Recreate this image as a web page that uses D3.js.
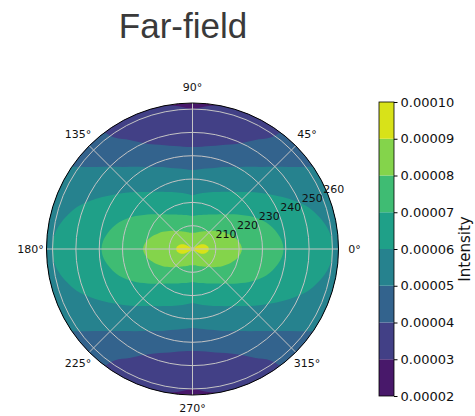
<!DOCTYPE html>
<html lang="en">
    <head>
        <meta charset="utf-8">
        <title>Far-field</title>
        <script type="text/javascript" src="https://cdn.jsdelivr.net/npm/d3@7"></script>
        <style>
            body { margin: 0; background: white; }
            text { font-family: "DejaVu Sans", sans-serif; }
        </style>
    </head>
    <body>
        <script type="text/javascript">
            // contour levels of the intensity (colour bar)
            var levels = [0.00002, 0.00003, 0.00004, 0.00005, 0.00006, 0.00007, 0.00008, 0.00009, 0.00010];

            // angles (deg) at which the contour edges were read, first quadrant (the plot is mirror symmetric)
            var thetaDeg = [0, 5, 10, 15, 20, 25, 30, 35, 40, 45, 50, 55, 60, 65, 70, 75, 80, 85, 90];

            // radius where intensity falls below each level (values > 262.6 lie outside the plot)
            var edge3 = [270, 270, 270, 270, 270, 270, 270, 270, 270, 270, 270, 270, 270, 270, 270, 270, 263.0, 261.3, 260.0];
            var edge4 = [270, 270, 270, 270, 270, 270, 270, 270, 270, 270, 270, 258.3, 254.0, 250.2, 247.7, 246.1, 244.8, 244.0, 243.7];
            var edge5 = [270, 270, 270, 270, 270, 270, 270, 261.5, 254.7, 249.8, 245.9, 243.0, 240.6, 238.8, 237.4, 236.0, 235.0, 234.3, 233.9];
            var edge6 = [260.3, 259.7, 258.1, 255.6, 252.7, 248.6, 244.6, 240.8, 237.5, 234.5, 231.9, 229.9, 228.3, 227.0, 226.0, 225.1, 224.4, 223.7, 223.1];
            var edge7 = [239.0, 238.5, 237.2, 235.5, 233.5, 230.9, 228.2, 225.5, 223.2, 221.1, 219.4, 218.1, 217.1, 216.3, 215.6, 215.1, 214.8, 214.4, 214.1];
            var edge8 = [221.2, 220.8, 220.0, 218.8, 217.4, 216.0, 214.7, 213.3, 212.1, 211.0, 210.0, 209.3, 208.7, 208.2, 207.8, 207.4, 207.1, 207.0, 207.0];
            var edge9 = [207.0, 206.9, 206.6, 206.1, 205.6, 204.8, 203.9, 202.1, 200, 200, 200, 200, 200, 200, 200, 200, 200, 200, 200];
            // the two top lobes do not quite touch at the centre
            var edge9Inner = 200.8;

            var edges = [edge3, edge4, edge5, edge6, edge7, edge8, edge9];

            var rTicks = [210, 220, 230, 240, 250, 260];
            var thetaTicks = [0, 45, 90, 135, 180, 225, 270, 315];

            var w = 475, h = 416;
            var cx = 192.5, cy = 249, R = 146;

            var svg = d3.select("body").append("svg").attr("width", w).attr("height", h);

            var color = function(i){ return d3.interpolateViridis((i + 0.5) / 8); };

            var rScale = d3.scaleLinear().domain([200, 262.6]).range([0, R]);

            svg.append("text")
                .attr("x", 183).attr("y", 38)
                .attr("text-anchor", "middle")
                .style("font-family", "'Liberation Sans', Arial, sans-serif")
                .attr("font-size", "35px")
                .attr("fill", "#3a3a3a")
                .text("Far-field");

            svg.append("clipPath").attr("id", "disk")
                .append("circle").attr("r", R);

            var g = svg.append("g").attr("transform", "translate(" + cx + "," + cy + ")");
            var plot = g.append("g").attr("clip-path", "url(#disk)");

            // mirror the first-quadrant readings round the whole circle
            function fullRing(edge){
                var pts = [];
                var n = thetaDeg.length - 1;
                for (var i = 0; i <= n; i++) pts.push([thetaDeg[i], edge[i]]);
                for (var j = 1; j <= n; j++) pts.push([90 + thetaDeg[j], edge[n - j]]);
                for (var j = 1; j <= n; j++) pts.push([180 + thetaDeg[j], edge[j]]);
                for (var j = 1; j < n; j++) pts.push([270 + thetaDeg[j], edge[n - j]]);
                return pts;
            }

            var radial = d3.lineRadial()
                .angle(function(d){ return Math.PI / 2 - d[0] * Math.PI / 180; })
                .radius(function(d){ return rScale(d[1]); })
                .curve(d3.curveCatmullRomClosed.alpha(0.5));

            // lowest band fills the whole disk
            plot.append("circle").attr("r", R).attr("fill", color(0));

            plot.selectAll("path.band")
                .data(edges)
                .enter()
                .append("path")
                .attr("class", "band")
                .attr("d", function(d, i){
                    var p = radial(fullRing(d));
                    if (i === edges.length - 1) {
                        // cut the small gap between the lobes
                        var ri = rScale(edge9Inner);
                        p += "M" + ri + ",0A" + ri + "," + ri + " 0 1,0 " + (-ri) + ",0A" + ri + "," + ri + " 0 1,0 " + ri + ",0Z";
                    }
                    return p;
                })
                .attr("fill-rule", "evenodd")
                .attr("fill", function(d, i){ return color(i + 1); });

            // grid
            g.selectAll("circle.ring")
                .data(rTicks)
                .enter()
                .append("circle")
                .attr("class", "ring")
                .attr("r", function(d){ return rScale(d); })
                .attr("fill", "none")
                .attr("stroke", "#c4c4c4")
                .attr("stroke-width", 1);

            g.selectAll("line.spoke")
                .data(thetaTicks)
                .enter()
                .append("line")
                .attr("class", "spoke")
                .attr("x1", 0).attr("y1", 0)
                .attr("x2", function(d){ return R * Math.cos(d * Math.PI / 180); })
                .attr("y2", function(d){ return -R * Math.sin(d * Math.PI / 180); })
                .attr("stroke", "#c4c4c4")
                .attr("stroke-width", 1);

            g.append("circle").attr("r", R)
                .attr("fill", "none").attr("stroke", "black").attr("stroke-width", 1);

            // label centres: 162px out, except the bottom one which sits a little higher
            g.selectAll("text.tlab")
                .data(thetaTicks)
                .enter()
                .append("text")
                .attr("class", "tlab")
                .attr("x", function(d){ return 162 * Math.cos(d * Math.PI / 180); })
                .attr("y", function(d){ return d === 270 ? 159 : -162 * Math.sin(d * Math.PI / 180); })
                .attr("dy", "0.35em")
                .attr("text-anchor", "middle")
                .attr("font-size", "11px")
                .attr("fill", "#111")
                .text(function(d){ return d + "°"; });

            var la = 22.5 * Math.PI / 180;
            g.selectAll("text.rlab")
                .data(rTicks)
                .enter()
                .append("text")
                .attr("class", "rlab")
                .attr("x", function(d){ return rScale(d) * Math.cos(la) + 1.5; })
                .attr("y", function(d){ return -rScale(d) * Math.sin(la) - 2; })
                .attr("font-size", "11px")
                .attr("fill", "#111")
                .text(function(d){ return d; });

            // colour bar
            var cbX = 379, cbW = 15;
            var cScale = d3.scaleLinear().domain([levels[0], levels[levels.length - 1]]).range([396, 102]);

            var cb = svg.append("g");
            cb.selectAll("rect")
                .data(levels.slice(0, -1))
                .enter()
                .append("rect")
                .attr("x", cbX)
                .attr("y", function(d, i){ return cScale(levels[i + 1]); })
                .attr("width", cbW)
                .attr("height", function(d, i){ return cScale(levels[i]) - cScale(levels[i + 1]); })
                .attr("fill", function(d, i){ return color(i); });

            cb.append("rect")
                .attr("x", cbX).attr("y", 102).attr("width", cbW).attr("height", 294)
                .attr("fill", "none").attr("stroke", "black").attr("stroke-width", 0.8);

            var axis = d3.axisRight(cScale).tickValues(levels).tickFormat(d3.format(".5f")).tickSizeOuter(0).tickSize(3.5).tickPadding(3);
            var ax = svg.append("g").attr("transform", "translate(" + (cbX + cbW) + ",0)").call(axis);
            ax.select(".domain").remove();
            ax.selectAll("text").attr("font-size", "13px").attr("fill", "#111").style("font-family", "'DejaVu Sans', sans-serif");

            svg.append("text")
                .attr("transform", "translate(470,249) rotate(-90)")
                .attr("text-anchor", "middle")
                .attr("font-size", "15px")
                .attr("fill", "#111")
                .text("Intensity");
        </script>
    </body>
</html>
